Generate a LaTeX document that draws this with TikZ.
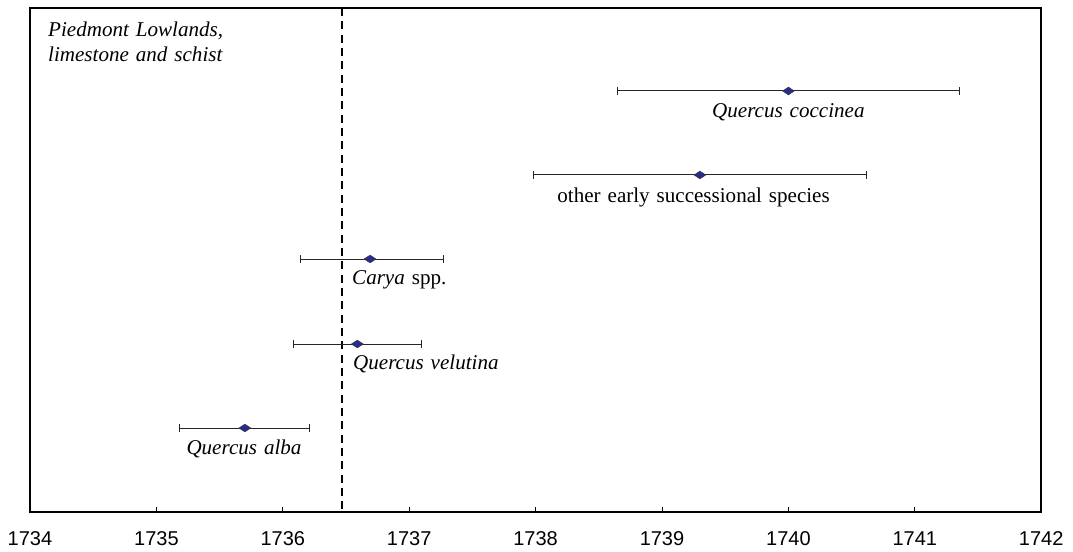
\documentclass[tikz,border=0pt]{standalone}
\usepackage{fontspec}
\setmainfont{Liberation Serif}
\setsansfont{Liberation Sans}
\usetikzlibrary{shapes.geometric}
\definecolor{markblue}{RGB}{40,45,140}
\newcommand\lblfont{\fontsize{15.8}{18}\selectfont\spaceskip=5.2pt plus 1pt\relax}
\tikzset{
	errbar/.style={draw=black!85, line width=0.75pt},
	markdiam/.style={diamond, draw=black!80, fill=markblue, inner sep=0pt, minimum width=9pt, minimum height=6pt, line width=0.3pt},
	lbl/.style={font=\lblfont, inner sep=0pt},
	yrlbl/.style={font=\sffamily\fontsize{15}{17}\selectfont, inner sep=0pt}
}
\begin{document}
\begin{tikzpicture}[x=94.8pt, y=-0.75pt, line cap=butt]
	\useasboundingbox (-0.2373,0) rectangle (8.2516,552);
	% frame and axis
	\draw[line width=1.2pt] (0,8) rectangle (8,512);
	\draw[line width=1.8pt] (0,512) -- (8,512);
	\foreach \i in {0,...,8}{
		\pgfmathtruncatemacro\yr{1734+\i}
		\draw[line width=0.6pt] (\i,512) -- (\i,507);
		\node[yrlbl] (yr\i) at (\i,539) {\yr};
	}
	% reference year
	\draw[line width=1.5pt, dash pattern=on 6pt off 4pt] (2.47,8) -- (2.47,512);
	\node[lbl, anchor=base west] (site1) at (0.142,37) {\itshape Piedmont Lowlands,};
	\node[lbl, anchor=base west] (site2) at (0.142,62) {\itshape limestone and schist};
	% error bars
	\foreach \lo/\c/\hi/\yy/\nm in {4.65/6.00/7.35/91/coc, 3.98/5.30/6.62/175/oth, 2.14/2.69/3.27/259/car, 2.08/2.59/3.10/344/vel, 1.18/1.70/2.21/428/alb}{
		\coordinate (\nm-lo) at (\lo,\yy);
		\coordinate (\nm-hi) at (\hi,\yy);
		\draw[errbar] (\nm-lo) -- (\nm-hi);
		\draw[errbar, line width=0.6pt] ([yshift=3pt]\nm-lo) -- ([yshift=-3pt]\nm-lo);
		\draw[errbar, line width=0.6pt] ([yshift=3pt]\nm-hi) -- ([yshift=-3pt]\nm-hi);
		\node[markdiam] (\nm) at (\c,\yy) {};
	}
	\node[lbl] (coc-t) at (6.00,112) {\itshape Quercus coccinea};
	\node[lbl] (oth-t) at (5.25,197) {other early successional species};
	\node[lbl, anchor=west] (car-t) at (2.547,280) {\itshape Carya\/\upshape{} spp.};
	\node[lbl, anchor=west] (vel-t) at (2.555,364) {\itshape Quercus velutina};
	\node[lbl] (alb-t) at (1.693,449) {\itshape Quercus alba};
\end{tikzpicture}
\end{document}
